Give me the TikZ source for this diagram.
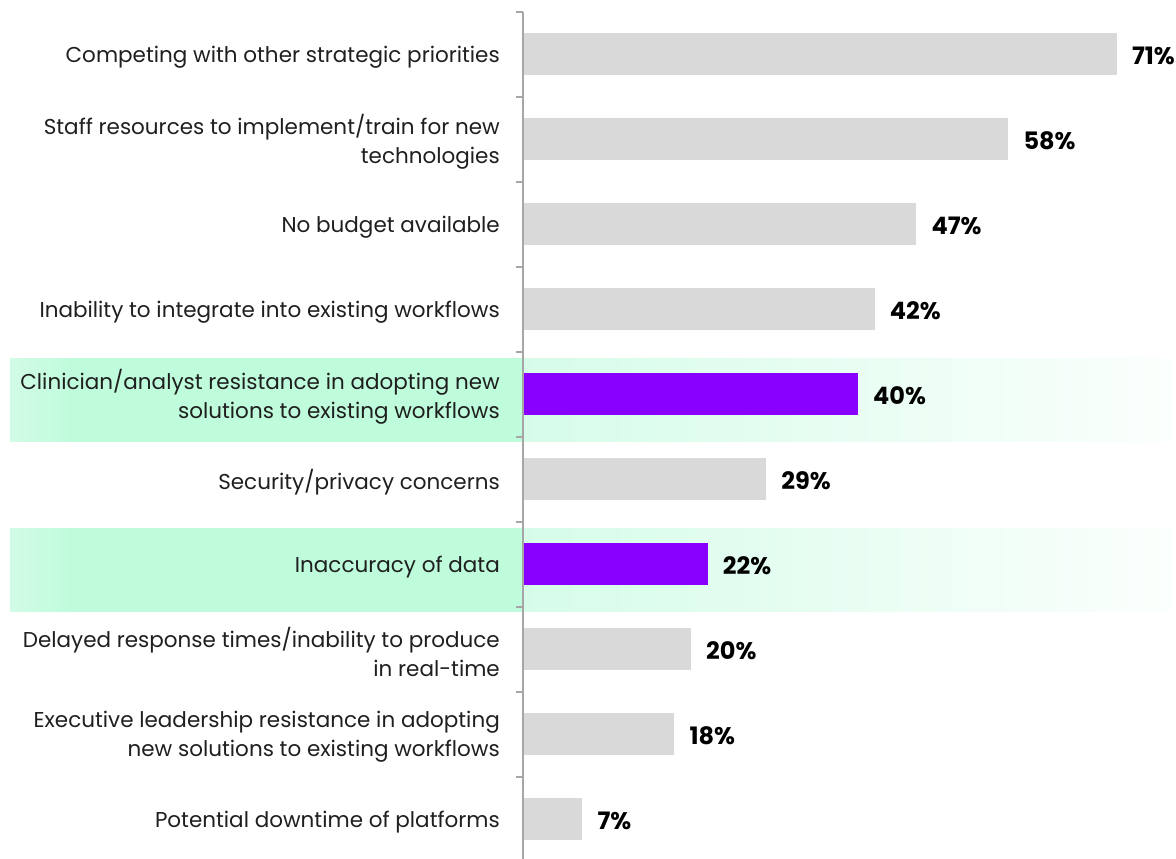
\documentclass[tikz,border=0pt]{standalone}
\usepackage{fontspec}
\setmainfont{Poppins}
\definecolor{barg}{HTML}{D9D9D9}
\definecolor{barp}{HTML}{8800FF}
\definecolor{mint}{HTML}{BFFCDC}
\definecolor{mintlight}{HTML}{D6FCE9}
\definecolor{mintedge}{HTML}{D2FBE6}
\definecolor{axisg}{HTML}{A6A6A6}
\pgfdeclarehorizontalshading{leftband}{100bp}{color(0bp)=(mintedge); color(25bp)=(mintedge); color(31bp)=(mint); color(100bp)=(mint)}
\pgfdeclarehorizontalshading{rightband}{100bp}{color(0bp)=(mintlight); color(25bp)=(mintlight); color(75bp)=(mint!6!white); color(100bp)=(mint!6!white)}
\begin{document}
\begin{tikzpicture}[x=1pt,y=-1pt,
  lbl/.style={anchor=east, align=right, font=\fontsize{21.5}{29}\selectfont, text=black!88, inner sep=0pt},
  val/.style={anchor=west, font=\fontsize{24}{28}\selectfont\bfseries, inner sep=0pt},
  barshape/.style={draw=none, anchor=west, minimum height=42pt, inner sep=0pt, outer sep=0pt},
  axisline/.style={draw=axisg, line width=1.4pt}]
\useasboundingbox (0,0) rectangle (1176,859);
% highlight bands
\foreach \c in {394,564}{
  \shade[shading=leftband] (10,\c-36) rectangle (523,\c+47);
  \shade[shading=rightband] (523,\c-36) rectangle (1172,\c+47);
}
% bars, labels, values
\foreach \i/\v/\c/\t in {
  1/71/barg/{Competing with other strategic priorities},
  2/58/barg/{Staff resources to implement/train for new\\technologies},
  3/47/barg/{No budget available},
  4/42/barg/{Inability to integrate into existing workflows},
  5/40/barp/{Clinician/analyst resistance in adopting new\\solutions to existing workflows},
  6/29/barg/{Security/privacy concerns},
  7/22/barp/{Inaccuracy of data},
  8/20/barg/{Delayed response times/inability to produce\\in real-time},
  9/18/barg/{Executive leadership resistance in adopting\\new solutions to existing workflows},
  10/7/barg/{Potential downtime of platforms}}{
  \node[barshape, fill=\c, minimum width={8.35*\v}] (b\i) at (524,{54+85*(\i-1)}) {};
  \node[val] (v\i) at ([xshift=15pt,yshift=-2pt]b\i.east) {\v\%};
  \node[lbl] (l\i) at (500,{57+85*(\i-1)}) {\t};
}
% axis
\coordinate (axtop) at (523,12);
\coordinate (axbot) at (523,859);
\draw[axisline] (axtop) -- (axbot);
\foreach \k in {0,...,9}{
  \coordinate (t\k) at (523,{12+85*\k});
  \draw[axisline] (t\k) -- ++(-7,0);
}
\end{tikzpicture}
\end{document}
